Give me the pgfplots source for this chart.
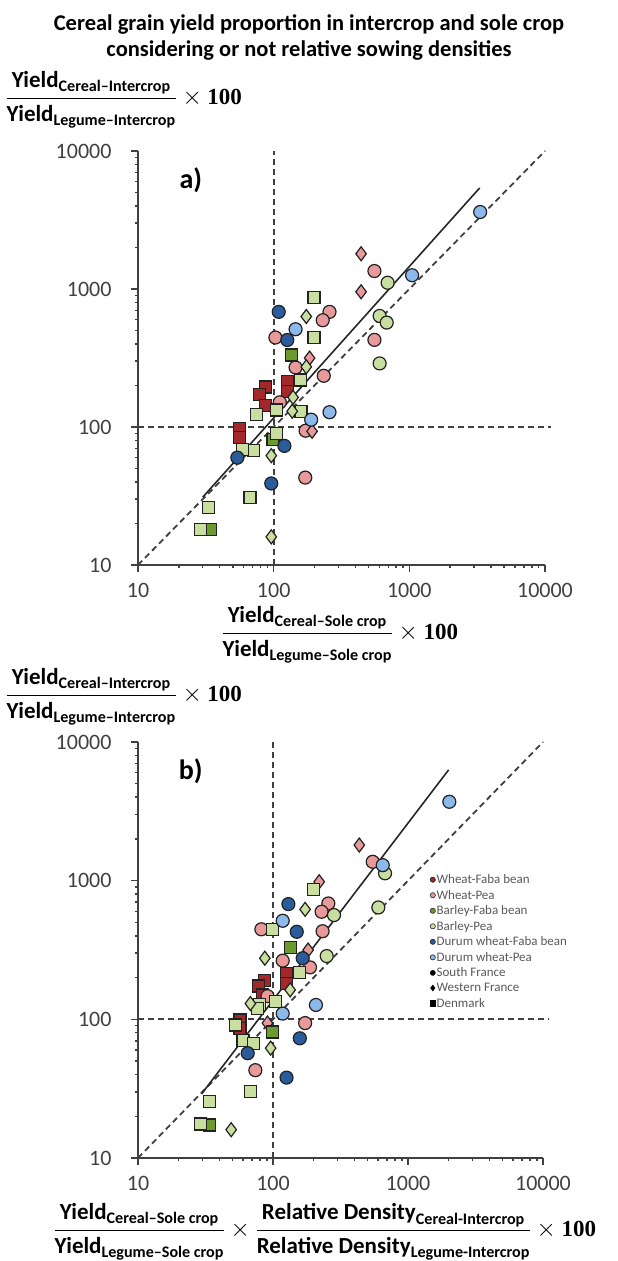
\documentclass[border=0pt]{standalone}
\usepackage{pgfplots}
\pgfplotsset{compat=1.18}
\usepackage{amsmath}
\usepackage{fontspec}
\setmainfont{Carlito}
\newfontfamily\serifbold{Liberation Serif}
\definecolor{WF}{HTML}{A3282B}
\definecolor{WP}{HTML}{E8999A}
\definecolor{BF}{HTML}{6C9A2C}
\definecolor{BP}{HTML}{C8DFA0}
\definecolor{DF}{HTML}{2A5C9C}
\definecolor{DP}{HTML}{8DB8EA}
\definecolor{edge}{HTML}{222222}
\definecolor{tk}{HTML}{404040}
\definecolor{lg}{HTML}{595959}
\newcommand{\hund}{\text{\serifbold\bfseries 100}}

\tikzset{
  mcirc/.style={only marks, mark=*, mark size=6.5pt, mark options={fill=#1, draw=edge, line width=1.2pt}},
  msq/.style={only marks, mark=square*, mark size=6pt, mark options={fill=#1, draw=edge, line width=1.2pt}},
  mdia/.style={only marks, mark=diamond*, mark size=7pt, mark options={fill=#1, draw=edge, line width=1.2pt}},
  refd/.style={dash pattern=on 6pt off 4pt, line width=1.8pt, color=black!75},
  reg/.style={line width=1.6pt, color=black!85},
}

\begin{document}
\begin{tikzpicture}
\path[use as bounding box] (0,0) rectangle (618pt,-1261pt);

\node[font=\bfseries\fontsize{22.5}{26}\selectfont, align=center] at (309pt,-37pt)
  {Cereal grain yield proportion in intercrop and sole crop\\considering or not relative sowing densities};

\node[anchor=west, font=\fontsize{23}{23}\selectfont] at (2pt,-100pt)
  {$\dfrac{\textbf{Yield}_{\textbf{Cereal–Intercrop}}}{\textbf{Yield}_{\textbf{Legume–Intercrop}}}\times\hund$};
\node[anchor=west, font=\fontsize{23}{23}\selectfont] at (218pt,-635pt)
  {$\dfrac{\textbf{Yield}_{\textbf{Cereal–Sole crop}}}{\textbf{Yield}_{\textbf{Legume–Sole crop}}}\times\hund$};
\node[anchor=west, font=\fontsize{23}{23}\selectfont] at (2pt,-697pt)
  {$\dfrac{\textbf{Yield}_{\textbf{Cereal–Intercrop}}}{\textbf{Yield}_{\textbf{Legume–Intercrop}}}\times\hund$};
\node[anchor=west, font=\fontsize{23}{23}\selectfont] at (50pt,-1232pt)
  {$\dfrac{\textbf{Yield}_{\textbf{Cereal–Sole crop}}}{\textbf{Yield}_{\textbf{Legume–Sole crop}}}\times
    \dfrac{\textbf{Relative Density}_{\textbf{Cereal-Intercrop}}}{\textbf{Relative Density}_{\textbf{Legume-Intercrop}}}\times\hund$};

% ---------------- panel a ----------------
\begin{axis}[scale only axis, xmode=log, ymode=log,
    xmin=10,xmax=10000,ymin=10,ymax=10000,
    axis lines=left, axis line style={-, line width=1.4pt, color=tk},
    xtick={10,100,1000,10000}, ytick={10,100,1000,10000},
    xticklabels={10,100,1000,10000}, yticklabels={10,100,1000,10000},
    minor xtick={}, minor ytick={},
    tick align=outside, major tick length=7pt,
    tick style={line width=1.4pt, color=tk},
    ticklabel style={font=\fontsize{22}{22}\selectfont, text=tk},
    xticklabel style={yshift=-8pt}, yticklabel style={xshift=-16pt},
    clip=false,
    at={(138pt,-565pt)}, anchor=south west, width=407pt, height=414pt]
\node[font=\bfseries\fontsize{28}{28}\selectfont] at (rel axis cs:0.13,0.93) {a)};
\addplot[refd] coordinates {(10,10) (10000,10000)};
\addplot[refd] coordinates {(10,100) (11000,100)};
\addplot[refd] coordinates {(100,10) (100,10000)};
\addplot[reg] coordinates {(30,31) (3300,5400)};
\addplot[msq=WF] coordinates {(87,195) (79,172) (87,143) (127,214) (127,182) (56,97) (56,84)};
\addplot[mcirc=WP] coordinates {(553,1350) (553,428) (258,683) (230,594) (103,445) (145,270) (234,235) (111,151) (172,94) (171,43)};
\addplot[mdia=WP] coordinates {(441,1800) (441,955) (184,316) (192,93)};
\addplot[msq=BF] coordinates {(135,333) (99,81) (34,18)};
\addplot[mcirc=BP] coordinates {(692,1110) (604,638) (681,571) (604,289)};
\addplot[msq=BP] coordinates {(198,865) (198,445) (158,219) (75,123) (105,133) (159,130) (105,90) (71,68) (59,69) (67,31) (33,26) (29,18)};
\addplot[mdia=BP] coordinates {(174,632) (174,273) (139,164) (137,130) (96,62) (96,16)};
\addplot[mcirc=DF] coordinates {(109,683) (126,427) (120,73) (54,60) (96,39)};
\addplot[mcirc=DP] coordinates {(3327,3614) (1048,1258) (145,511) (189,113) (258,128)};
\end{axis}

% ---------------- panel b ----------------
\begin{axis}[scale only axis, xmode=log, ymode=log,
    xmin=10,xmax=10000,ymin=10,ymax=10000,
    axis lines=left, axis line style={-, line width=1.4pt, color=tk},
    xtick={10,100,1000,10000}, ytick={10,100,1000,10000},
    xticklabels={10,100,1000,10000}, yticklabels={10,100,1000,10000},
    minor xtick={}, minor ytick={},
    tick align=outside, major tick length=7pt,
    tick style={line width=1.4pt, color=tk},
    ticklabel style={font=\fontsize{22}{22}\selectfont, text=tk},
    xticklabel style={yshift=-8pt}, yticklabel style={xshift=-16pt},
    clip=false,
    at={(138pt,-1158pt)}, anchor=south west, width=405pt, height=416pt,
  legend style={at={(0.721,0.685)}, anchor=north west, draw=none, fill=none,
    font=\fontsize{13}{13}\selectfont, text=lg, row sep=2.6pt, inner sep=0pt,
    nodes={inner sep=1.2pt}},
  legend cell align=left,
  legend image code/.code={\draw[#1] plot coordinates {(0pt,0pt)};}]
\node[font=\bfseries\fontsize{28}{28}\selectfont] at (rel axis cs:0.13,0.93) {b)};
\addplot[refd, forget plot] coordinates {(10,10) (10000,10000)};
\addplot[refd, forget plot] coordinates {(10,100) (11000,100)};
\addplot[refd, forget plot] coordinates {(100,10) (100,10000)};
\addplot[reg, forget plot] coordinates {(29.6,29) (2000,6300)};
\addplot[msq=WF, forget plot] coordinates {(86,190) (78,174) (126,214) (126,182) (57,99) (57,86) (84,150)};
\addplot[mcirc=WP, forget plot] coordinates {(548,1368) (257,685) (229,597) (82,446) (233,432) (118,265) (188,237) (91,147) (173,94) (74,43)};
\addplot[mdia=WP, forget plot] coordinates {(436,1807) (220,982) (182,316) (91,94)};
\addplot[msq=BF, forget plot] coordinates {(134,330) (99,81) (34,17.3)};
\addplot[mcirc=BP, forget plot] coordinates {(676,1130) (603,641) (283,565) (250,286)};
\addplot[msq=BP, forget plot] coordinates {(199,865) (99,446) (158,217) (79,128) (105,134) (77,120) (53,91) (60,70) (72,67) (68,30) (34,25.5) (29,17.6)};
\addplot[mdia=BP, forget plot] coordinates {(173,621) (87,276) (134,163) (68,130) (96,62) (49,16)};
\addplot[mcirc=DF, forget plot] coordinates {(130,678) (150,428) (166,276) (158,73) (65,57) (126,38)};
\addplot[mcirc=DP, forget plot] coordinates {(2024,3707) (650,1294) (118,514) (208,127) (118,110)};
\addlegendimage{only marks, mark=*, mark size=2.6pt, mark options={fill=WF, draw=edge, line width=0.6pt}}
\addlegendentry{Wheat-Faba bean}
\addlegendimage{only marks, mark=*, mark size=2.6pt, mark options={fill=WP, draw=edge, line width=0.6pt}}
\addlegendentry{Wheat-Pea}
\addlegendimage{only marks, mark=*, mark size=2.6pt, mark options={fill=BF, draw=edge, line width=0.6pt}}
\addlegendentry{Barley-Faba bean}
\addlegendimage{only marks, mark=*, mark size=2.6pt, mark options={fill=BP, draw=edge, line width=0.6pt}}
\addlegendentry{Barley-Pea}
\addlegendimage{only marks, mark=*, mark size=2.6pt, mark options={fill=DF, draw=edge, line width=0.6pt}}
\addlegendentry{Durum wheat-Faba bean}
\addlegendimage{only marks, mark=*, mark size=2.6pt, mark options={fill=DP, draw=edge, line width=0.6pt}}
\addlegendentry{Durum wheat-Pea}
\addlegendimage{only marks, mark=*, mark size=2.6pt, mark options={fill=black, draw=black}}
\addlegendentry{South France}
\addlegendimage{only marks, mark=diamond*, mark size=3pt, mark options={fill=black, draw=black}}
\addlegendentry{Western France}
\addlegendimage{only marks, mark=square*, mark size=2.6pt, mark options={fill=black, draw=black}}
\addlegendentry{Denmark}
\end{axis}
\end{tikzpicture}
\end{document}
